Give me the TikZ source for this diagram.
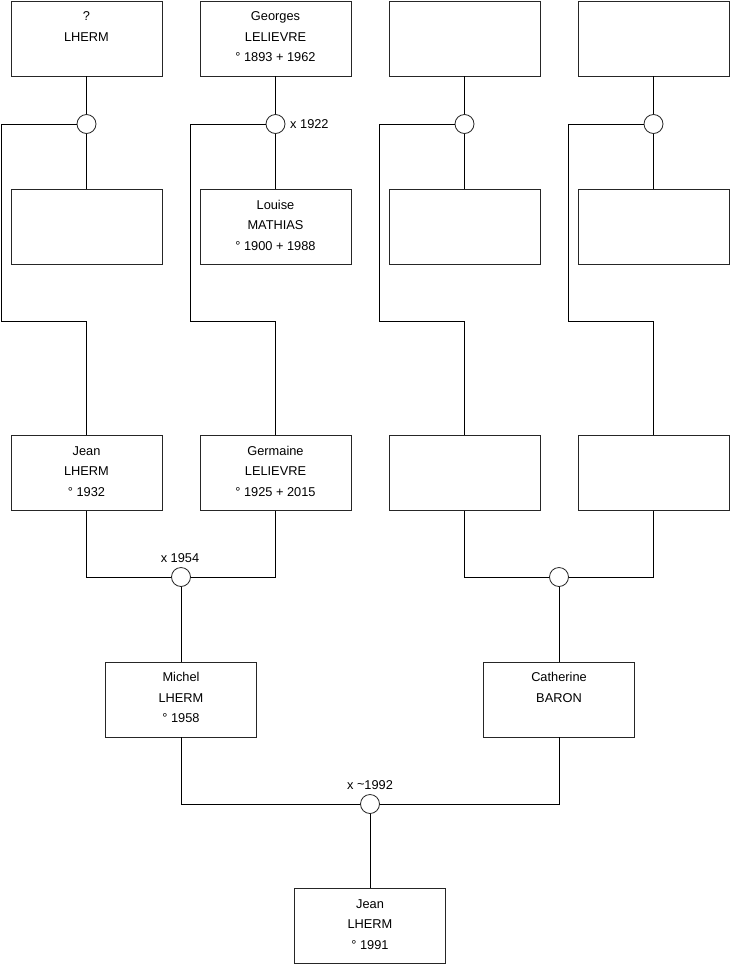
\documentclass[tikz,border=0pt]{standalone}
\usepackage{fontspec}
\setmainfont{Liberation Sans}
\newcommand\pbx[1]{\parbox[c][75pt][t]{151pt}{\centering\fontsize{12.8}{20.5}\selectfont\rule{0pt}{19.5pt}#1}}
\begin{document}
\begin{tikzpicture}[x=1pt,y=-1pt,
  person/.style={draw=black!85,line width=0.8pt,inner sep=0pt,fill=white},
  union/.style={draw=black!85,line width=0.8pt,circle,minimum size=19pt,inner sep=0pt,fill=white},
  link/.style={draw=black,line width=0.8pt},
  lbl/.style={font=\fontsize{12.8}{14}\selectfont,inner sep=0pt}]
\useasboundingbox (0,0) rectangle (740,975);
% row 1
\node[person] (a1) at (86.5,38.5) {\pbx{?\\LHERM}};
\node[person] (b1) at (275.5,38.5) {\pbx{Georges\\LELIEVRE\\° 1893 + 1962}};
\node[person] (c1) at (464.5,38.5) {\pbx{}};
\node[person] (d1) at (653.5,38.5) {\pbx{}};
% row 2
\node[person] (a2) at (86.5,227) {\pbx{}};
\node[person] (b2) at (275.5,227) {\pbx{Louise\\MATHIAS\\° 1900 + 1988}};
\node[person] (c2) at (464.5,227) {\pbx{}};
\node[person] (d2) at (653.5,227) {\pbx{}};
% row 3
\node[person] (a3) at (86.5,473) {\pbx{Jean\\LHERM\\° 1932}};
\node[person] (b3) at (275.5,473) {\pbx{Germaine\\LELIEVRE\\° 1925 + 2015}};
\node[person] (c3) at (464.5,473) {\pbx{}};
\node[person] (d3) at (653.5,473) {\pbx{}};
% row 4
\node[person] (m) at (181,699.5) {\pbx{Michel\\LHERM\\° 1958}};
\node[person] (cb) at (559,699.5) {\pbx{Catherine\\BARON}};
% row 5
\node[person] (j) at (370,926) {\pbx{Jean\\LHERM\\° 1991}};
% union circles
\node[union] (ua) at (86.5,124) {};
\node[union] (ub) at (275.5,124) {};
\node[union] (uc) at (464.5,124) {};
\node[union] (ud) at (653.5,124) {};
\node[union] (um) at (181,577) {};
\node[union] (uc2) at (559,577) {};
\node[union] (uj) at (370,804) {};
% labels
\node[lbl,anchor=west] (l1922) at (290,124) {x 1922};
\node[lbl] (l1954) at (180,558) {x 1954};
\node[lbl] (l1992) at (370,785) {x \raisebox{0.5pt}{\char`~}1992};
% rail coordinates
\foreach \n/\x/\cx in {a/1.5/86.5,b/190.5/275.5,c/379.5/464.5,d/568.5/653.5}{
  \coordinate (r\n1) at (\x,124);
  \coordinate (r\n2) at (\x,321);
  \coordinate (r\n3) at (\cx,321);
}
\foreach \n in {a,b,c,d}{
  \draw[link] (\n1.south) -- (u\n.north);
  \draw[link] (u\n.south) -- (\n2.north);
  \draw[link] (u\n.west) -- (r\n1) -- (r\n2) -- (r\n3) -- (\n3.north);
}
\draw[link] (a3.south) |- (um.west);
\draw[link] (b3.south) |- (um.east);
\draw[link] (um.south) -- (m.north);
\draw[link] (c3.south) |- (uc2.west);
\draw[link] (d3.south) |- (uc2.east);
\draw[link] (uc2.south) -- (cb.north);
\draw[link] (m.south) |- (uj.west);
\draw[link] (cb.south) |- (uj.east);
\draw[link] (uj.south) -- (j.north);
\end{tikzpicture}
\end{document}
